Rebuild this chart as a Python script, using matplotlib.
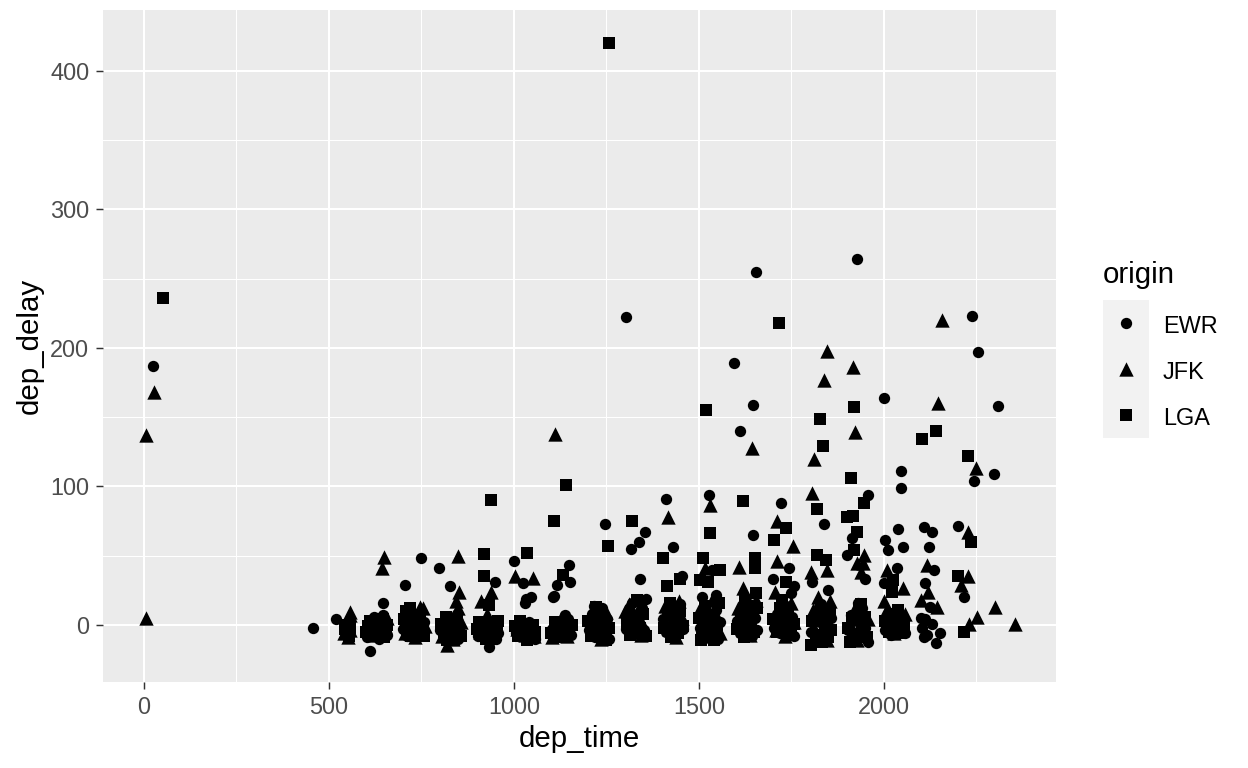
import matplotlib
matplotlib.use('Agg')
import matplotlib.pyplot as plt
import numpy as np

plt.rcParams['font.family'] = ['Liberation Sans', 'DejaVu Sans']

# (dep_time, dep_delay), one list per origin
ewr_pts = [
    (24, 187), (457, -2), (518, 4.5),
    # 6h
    (603, -9), (612, -4), (622, 6), (628, -2), (635, -10), (642, -6), (648, 1), (657, -7),
    (611, -18.5), (645, 16), (647, 7),
    # 7h
    (700, -3), (710, -8), (715, 3), (725, -5), (735, 8), (742, -1), (750, -7), (756, 2),
    (705, 29), (748, 48.6),
    # 8h
    (801, -4), (810, -9), (818, 2), (826, -6), (833, 5), (840, -2), (848, -10), (855, -5),
    (798, 41), (827, 28), (845, 8),
    # 9h
    (903, -8), (915, -4), (928, 0), (937, -11), (945, -5), (952, -10), (957, -6),
    (932, -15.6), (948, 31),
    # 10h
    (1000, 46), (1025, 30.5), (1045, 20), (1030, 15.6), (1033, 19), (1005, -6), (1018, -2),
    (1028, -9), (1040, 2), (1050, -4), (1057, -10),
    # 11h
    (1148, 43), (1115, 29), (1151, 31), (1106, 20), (1138, 7), (1108, 21), (1102, -3),
    (1112, -8), (1125, 1), (1135, -5), (1145, 4), (1155, -7),
    # 12h
    (1246, 73), (1203, -4), (1212, 8), (1220, -9), (1228, 2), (1238, 12), (1245, -6),
    (1252, 4), (1258, -10), (1215, 14),
    # 13h
    (1304, 222), (1315, 55), (1338, 60), (1354, 67), (1340, 33), (1302, -3), (1310, 8),
    (1320, 16), (1328, -6), (1336, 4), (1345, 12), (1352, -4), (1358, 19),
    # 14h
    (1410, 91), (1429, 56.5), (1453, 35), (1402, 4), (1412, -5), (1420, 12), (1430, -8),
    (1440, 6), (1448, 15), (1456, -3),
    # 15h
    (1527, 94), (1534, 40), (1546, 21.7), (1507, 20.5), (1502, -2), (1510, 8), (1518, -9),
    (1528, 3), (1538, -5), (1545, 11), (1552, -10), (1558, 2),
    # 16h
    (1596, 189), (1653, 255), (1645, 159), (1612, 140), (1645, 65), (1602, 3), (1610, -6),
    (1618, 10), (1628, -2), (1636, 15), (1644, -8), (1652, 5), (1658, -4),
    # 17h
    (1721, 88), (1742, 41), (1699, 33), (1758, 28), (1750, 23), (1702, -2), (1710, 8),
    (1718, -6), (1728, 3), (1736, 14), (1744, -4), (1752, 6), (1758, -8),
    # 18h
    (1839, 73), (1806, 31), (1849, 25), (1802, -5), (1810, 6), (1818, -10), (1826, 2),
    (1835, -6), (1842, 11), (1850, -3), (1857, 5), (1830, 15),
    # 19h
    (1926, 264.5), (1957, 94), (1914, 62.6), (1900, 50.5), (1949, 33), (1902, -4), (1910, 7),
    (1918, -10), (1926, 3), (1934, -6), (1942, 12), (1950, -2), (1956, -12), (1930, 16),
    # 20h
    (2001, 164), (2045, 111), (2045, 98.7), (2037, 69.6), (2003, 61.4), (2010, 54),
    (2052, 56.6), (2034, 41), (2000, 30.5), (2002, -4), (2010, 5), (2018, -7), (2026, 2),
    (2034, 9), (2042, -3), (2050, 6), (2057, -6),
    # 21h
    (2108, 70.5), (2131, 67.4), (2122, 56.6), (2111, 30.5), (2135, 40), (2124, 13),
    (2101, 5), (2115, -7), (2131, 1), (2151, -5.5), (2142, -13), (2104, -2), (2108, -9),
    (2112, 4),
    # 22h-23h
    (2239, 223), (2253, 197), (2244, 104), (2200, 71.7), (2216, 20.5), (2307, 158), (2298, 109),
]

jfk_pts = [
    (27, 168), (5, 137), (5, 5),
    # 5h
    (540, -6), (545, 2), (556, -4), (557, 7), (552, -9), (557, 9),
    # 6h
    (602, -2), (618, -7), (632, 2), (638, -4), (652, -1), (642, 41), (650, 49), (656, 5),
    # 7h
    (705, -6), (718, -1), (728, 5), (733, -9), (740, 3), (748, -4), (755, 12), (759, -1),
    (746, 13),
    # 8h
    (805, -8), (818, -14.4), (822, -3), (835, -10), (842, 17), (849, 50), (852, 23.6),
    (850, 12), (843, 9), (857, 2),
    # 9h
    (908, -5), (922, 3), (930, -7), (942, -2), (950, 2), (912, 17), (939, 24), (926, 8),
    # 10h
    (1003, 35), (1052, 34), (1008, -3), (1020, 1), (1030, -7), (1042, -1), (1055, -8),
    # 11h
    (1111, 138), (1104, -9), (1118, -2), (1128, 5), (1142, -8), (1152, 3),
    # 12h
    (1205, 5), (1218, -6), (1230, 7), (1242, -3), (1250, 9), (1235, -10),
    # 13h
    (1300, 10), (1312, 15), (1326, -4), (1334, 11), (1350, 0), (1343, -7),
    # 14h
    (1417, 78), (1408, 14), (1418, -3), (1428, 4), (1438, -9), (1445, 17), (1455, 5),
    # 15h
    (1530, 86.6), (1516, 41), (1504, 12), (1512, 1), (1525, -8), (1535, 18), (1542, -2),
    (1550, 6), (1557, -6),
    # 16h
    (1644, 127.5), (1609, 42), (1618, 26.5), (1606, 12), (1620, -4), (1630, 7), (1638, -7),
    (1646, 1), (1655, 18),
    # 17h
    (1710, 75), (1755, 57), (1710, 46), (1705, 24), (1708, -4), (1722, 5), (1732, -8),
    (1742, 10), (1750, 16), (1757, 2),
    # 18h
    (1845, 198), (1839, 177), (1811, 120), (1806, 95), (1845, 40), (1803, 38.5),
    (1822, 20.5), (1812, -2), (1820, 14), (1828, -5), (1838, 6), (1846, -11), (1853, 17),
    (1808, 11),
    # 19h
    (1916, 186), (1922, 139), (1926, 44.5), (1946, 50.5), (1944, 44.5), (1939, 38.5),
    (1906, 2), (1916, -5), (1924, 14), (1936, -1), (1944, 8), (1952, -7), (1958, 4),
    (1928, -11),
    # 20h
    (2007, 40), (2052, 26.5), (2000, 17), (2006, 10), (2016, 0), (2028, -6), (2040, 4),
    (2048, -4), (2056, 8),
    # 21h
    (2158, 220), (2146, 160), (2117, 43), (2120, 24), (2100, 18), (2144, 13),
    # 22h-23h
    (2249, 113), (2228, 67.4), (2228, 35), (2208, 29), (2230, 1), (2252, 6),
    (2300, 13), (2354, 0.7),
]

lga_pts = [
    (51, 236),
    # 5h
    (544, -3), (550, 0), (555, -8), (558, -2),
    # 6h
    (600, -5), (605, -1), (610, 3), (615, -8), (620, -3), (625, 1), (630, -6), (640, -2),
    (645, 4), (650, -9), (655, -4), (658, 0),
    # 7h
    (703, 4), (708, 10), (712, -4), (719, 12), (722, -8), (730, 0), (738, -6), (745, 6),
    (753, -3), (758, -8),
    # 8h
    (803, 1), (812, -5), (820, -11), (830, -1), (838, -7), (845, 3), (852, -3), (858, -8),
    (815, 6),
    # 9h
    (900, -3), (905, 2), (912, -7), (918, -1), (925, -10), (932, 14.4), (935, -4), (940, 1),
    (948, -8), (955, -2), (958, 3), (920, 51), (920, 35.6), (938, 90),
    # 10h
    (1036, 52), (1002, -1), (1010, -8), (1015, 3), (1022, -4), (1035, -11), (1045, -6),
    (1052, 0), (1058, -5),
    # 11h
    (1141, 101), (1109, 75), (1133, 36), (1100, -6), (1110, 2), (1120, -4), (1130, -9),
    (1140, -1), (1150, -6), (1158, 0),
    # 12h
    (1255, 57), (1257, 420), (1200, 3), (1208, -8), (1216, -1), (1225, 10), (1232, -5),
    (1240, 5), (1248, -11), (1256, -2), (1222, 13),
    # 13h
    (1318, 75), (1305, 2), (1314, -7), (1324, 6), (1332, 18), (1340, -2), (1348, 8),
    (1356, -8), (1322, -1),
    # 14h
    (1404, 48), (1413, 28), (1449, 33), (1405, -2), (1415, 8), (1425, -9), (1435, 2),
    (1442, -6), (1450, 10), (1458, -1), (1422, 16),
    # 15h
    (1520, 155.5), (1531, 66.6), (1510, 48.6), (1557, 40), (1503, 32.5), (1525, 31),
    (1500, 5), (1508, -6), (1515, 14), (1522, -3), (1532, 7), (1540, -11), (1548, 0),
    (1555, 16), (1505, -11),
    # 16h
    (1620, 89.5), (1651, 48), (1651, 41), (1654, 23), (1604, -3), (1614, 6), (1622, -9),
    (1632, 2), (1640, 8), (1648, -5), (1656, 12), (1625, 17),
    # 17h
    (1715, 218), (1735, 70), (1704, 61), (1735, 31), (1700, 4), (1712, -5), (1720, 12),
    (1730, -2), (1740, 7), (1748, -7), (1756, 1), (1725, 18),
    # 18h
    (1826, 149), (1834, 129.5), (1820, 84), (1820, 50.5), (1842, 47), (1802, -14.4),
    (1806, 3), (1815, -7), (1823, 9), (1832, -12), (1840, 0), (1848, -9), (1855, 8),
    (1858, -4),
    # 19h
    (1912, 106), (1918, 157), (1901, 78), (1917, 79), (1946, 88), (1928, 67.4), (1919, 54),
    (1904, -2), (1914, 5), (1922, -7), (1932, 10), (1940, -3), (1948, 6), (1955, -9),
    (1908, -12), (1938, 15),
    # 20h
    (2024, 32.5), (2021, 24), (2004, 3), (2014, -5), (2022, 8), (2030, -2), (2038, 11),
    (2046, -6), (2054, 1),
    # 21h-22h
    (2141, 140), (2104, 134.5), (2228, 122), (2235, 59.7), (2200, 35), (2216, -5),
]

origins = ['EWR', 'JFK', 'LGA']
markers = ['o', '^', 's']
sizes = [18, 29, 20]

x_ticks = [0, 500, 1000, 1500, 2000]
y_ticks = [0, 100, 200, 300, 400]

W, H = 1248, 768
fig = plt.figure(figsize=(6.5, 4), dpi=192)
ax = fig.add_axes([103 / W, 1 - 682 / H, 953 / W, 672 / H])
ax.set_facecolor('#EBEBEB')

for pts, m, s in zip([ewr_pts, jfk_pts, lga_pts], markers, sizes):
    a = np.array(pts)
    ax.scatter(a[:, 0], a[:, 1], marker=m, s=s, c='black', linewidths=0, zorder=3)

ax.set_xlim(-110.8, 2465)
ax.set_ylim(-41.2, 444)
ax.set_xticks(x_ticks)
ax.set_yticks(y_ticks)
ax.set_xticks([250, 750, 1250, 1750, 2250], minor=True)
ax.set_yticks([50, 150, 250, 350], minor=True)
ax.grid(which='major', color='white', linewidth=0.75)
ax.grid(which='minor', color='white', linewidth=0.38)
ax.set_axisbelow(True)
for sp in ax.spines.values():
    sp.set_visible(False)
ax.tick_params(which='major', length=2.75, width=0.55, color='#333333',
               labelsize=8.8, labelcolor='#4D4D4D', pad=2.4)
ax.tick_params(which='minor', length=0)

fig.text(579.5 / W, 1 - 747 / H, 'dep_time', fontsize=11, ha='center', va='baseline')
fig.text(38 / W, 1 - 346 / H, 'dep_delay', fontsize=11, ha='center', va='baseline',
         rotation=90, rotation_mode='anchor')

# legend
fig.text(1103 / W, 1 - 283 / H, 'origin', fontsize=11, ha='left', va='baseline')
lax = fig.add_axes([1103 / W, 1 - 438 / H, 46 / W, 138 / H])
lax.set_facecolor('#F2F2F2')
lax.set_xlim(0, 1)
lax.set_ylim(0, 3)
lax.set_xticks([])
lax.set_yticks([])
for sp in lax.spines.values():
    sp.set_visible(False)
for i, (lab, m, s) in enumerate(zip(origins, markers, sizes)):
    lax.scatter([0.5], [2.5 - i], marker=m, s=s, c='black', linewidths=0)
    fig.text(1163 / W, 1 - (333 + 46 * i) / H, lab, fontsize=8.8, ha='left', va='baseline')

fig.savefig('out.png', dpi=192)
